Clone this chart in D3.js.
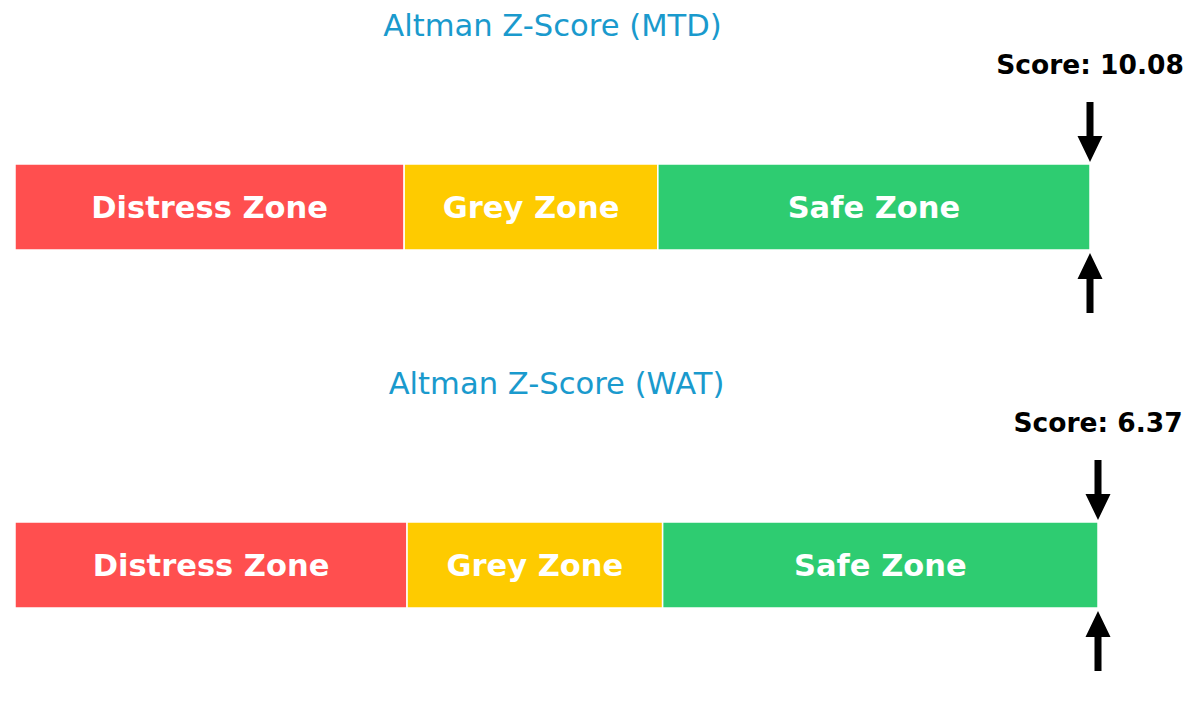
<!DOCTYPE html>
<html>
<head>
<meta charset="utf-8">
<script src="https://cdn.jsdelivr.net/npm/d3@7"></script>
<style>
  body { margin: 0; background: #ffffff; }
  text { font-family: "DejaVu Sans", sans-serif; }
</style>
</head>
<body>
<div id="chart"></div>
<script>
// data
var companies = ["MTD", "WAT"];
var scores = [10.08, 6.37];
var zone_names = ["Distress Zone", "Grey Zone", "Safe Zone"];
var zone_bounds = [0, 1.81, 2.99, 5.0];
var zone_colors = ["#ff4f4f", "#fecb00", "#2ecc71"];

var width = 1200;
var height = 715;

var svg = d3.select("#chart").append("svg")
    .attr("width", width)
    .attr("height", height);

// each panel: bar left/right edges, bar top
var panel_right = [1090, 1098];
var panel_top = [164, 522];
var bar_h = 86;

companies.forEach(function(name, i) {
    var x = d3.scaleLinear()
        .domain([zone_bounds[0], zone_bounds[zone_bounds.length - 1]])
        .range([15, panel_right[i]]);
    var top = panel_top[i];

    var g = svg.append("g").attr("class", "panel");

    g.append("text")
        .text("Altman Z-Score (" + name + ")")
        .attr("x", (x.range()[0] + x.range()[1]) / 2)
        .attr("y", top - 128)
        .attr("text-anchor", "middle")
        .attr("font-size", 30.6)
        .attr("fill", "#1a9acd");

    var zones = zone_names.map(function(z, k) {
        return {name: z, x0: zone_bounds[k], x1: zone_bounds[k + 1], color: zone_colors[k]};
    });

    g.selectAll(".zone")
        .data(zones)
        .enter()
        .append("rect")
        .attr("class", "zone")
        .attr("x", function(d) { return x(d.x0); })
        .attr("y", top)
        .attr("width", function(d) { return x(d.x1) - x(d.x0); })
        .attr("height", bar_h)
        .attr("fill", function(d) { return d.color; })
        .attr("stroke", "#ffffff")
        .attr("stroke-width", 1.5);

    g.selectAll(".zone_label")
        .data(zones)
        .enter()
        .append("text")
        .attr("class", "zone_label")
        .text(function(d) { return d.name; })
        .attr("x", function(d) { return (x(d.x0) + x(d.x1)) / 2; })
        .attr("y", top + bar_h / 2 + 11)
        .attr("text-anchor", "middle")
        .attr("font-size", 30.5)
        .attr("font-weight", "bold")
        .attr("fill", "#ffffff");

    // score marker, clipped to the end of the bar
    var sx = x(Math.min(scores[i], x.domain()[1]));
    var shaft = 3.5, head_w = 12.5, head_l = 26, len = 60;

    function arrow(tip_y, dir) {
        // dir = 1 points down, -1 points up
        var p = d3.path();
        var base = tip_y - dir * head_l;
        var tail = tip_y - dir * len;
        p.moveTo(sx, tip_y);
        p.lineTo(sx - head_w, base);
        p.lineTo(sx - shaft, base);
        p.lineTo(sx - shaft, tail);
        p.lineTo(sx + shaft, tail);
        p.lineTo(sx + shaft, base);
        p.lineTo(sx + head_w, base);
        p.closePath();
        return p.toString();
    }

    g.append("path")
        .attr("d", arrow(top - 2, 1))
        .attr("fill", "#000000");

    g.append("path")
        .attr("d", arrow(top + bar_h + 3, -1))
        .attr("fill", "#000000");

    g.append("text")
        .text("Score: " + scores[i].toFixed(2))
        .attr("x", sx)
        .attr("y", top - 90)
        .attr("text-anchor", "middle")
        .attr("font-size", 26.5)
        .attr("font-weight", "bold")
        .attr("fill", "#000000");
});
</script>
</body>
</html>
